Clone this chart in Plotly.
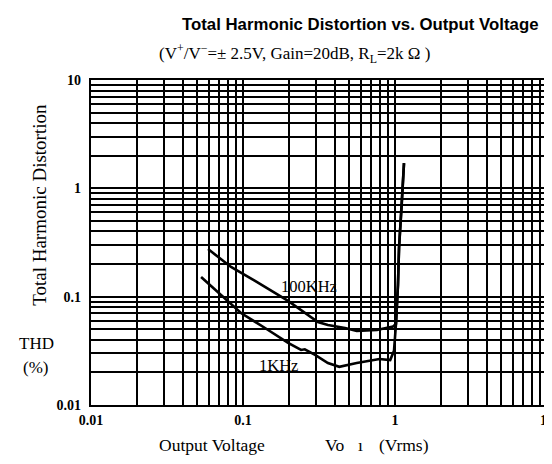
import math
import plotly.graph_objects as go

# ---- data ----
x_100k = [0.0589, 0.0834, 0.120, 0.198, 0.311, 0.362, 0.469, 0.56, 0.76, 0.97, 1.015, 1.046, 1.063, 1.107, 1.146]
y_100k = [0.275, 0.188, 0.140, 0.0913, 0.0584, 0.0548, 0.0514, 0.0482, 0.0493, 0.0530, 0.056, 0.128, 0.282, 0.70, 1.71]

x_1k = [0.053, 0.0717, 0.097, 0.1396, 0.198, 0.241, 0.255, 0.298, 0.362, 0.43, 0.56, 0.79, 0.93, 0.985, 1.015, 1.046, 1.063, 1.107, 1.146]
y_1k = [0.152, 0.1036, 0.0707, 0.0514, 0.0374, 0.0322, 0.0327, 0.0290, 0.0244, 0.0225, 0.0244, 0.0266, 0.026, 0.0316, 0.056, 0.128, 0.282, 0.70, 1.71]

tick_vals = [0.01, 0.1, 1, 10]
tick_text = ["0.01", "0.1", "1", "10"]
minor_vals = [m * 10 ** e for e in range(-2, 1) for m in range(2, 10)]

label_100k = ("100KHz", 0.27, 0.123)
label_1k = ("1KHz", 0.172, 0.0234)

SERIF = "Liberation Serif"
SANS = "Liberation Sans"

fig = go.Figure()
fig.add_trace(go.Scatter(x=x_100k, y=y_100k, mode="lines",
                         line=dict(color="black", width=2.6), name="100KHz"))
fig.add_trace(go.Scatter(x=x_1k, y=y_1k, mode="lines",
                         line=dict(color="black", width=2.6), name="1KHz"))

axis_common = dict(
    type="log",
    tickvals=tick_vals,
    ticktext=tick_text,
    showgrid=True,
    gridcolor="black",
    gridwidth=1.7,
    minor=dict(tickvals=minor_vals, showgrid=True, gridcolor="black", gridwidth=1.5, ticks=""),
    showline=True,
    linecolor="black",
    linewidth=2.2,
    mirror=True,
    ticks="",
    zeroline=False,
    tickfont=dict(family=SERIF, size=14, color="black", weight="bold"),
)

fig.update_layout(
    width=552, height=464,
    margin=dict(l=83, r=6, t=72, b=67),
    paper_bgcolor="white",
    plot_bgcolor="white",
    showlegend=False,
    xaxis=dict(range=[-2, 1], ticklabelstandoff=1, **axis_common),
    yaxis=dict(range=[-2, 1], ticklabelstandoff=5, **axis_common),
)

ann = []
for txt, xv, yv in (label_100k, label_1k):
    ann.append(dict(text=txt, x=math.log10(xv), y=math.log10(yv), xref="x", yref="y",
                    showarrow=False, font=dict(family=SERIF, size=16.5, color="black")))

ann += [
    dict(text="<b>Total Harmonic Distortion vs. Output Voltage</b>", x=356, y=16,
         font=dict(family=SANS, size=16.8, color="black")),
    dict(text="(V<sup>+</sup>/V<sup>−</sup>=± 2.5V, Gain=20dB, R<sub>L</sub>=2k Ω )", x=290, y=45,
         font=dict(family=SERIF, size=17, color="black")),
    dict(text="Total Harmonic Distortion", x=30, y=197, textangle=-90,
         font=dict(family=SERIF, size=19, color="black")),
    dict(text="THD", x=28, y=335, font=dict(family=SERIF, size=17, color="black")),
    dict(text="(%)", x=27, y=359, font=dict(family=SERIF, size=17, color="black")),
    dict(text="Output Voltage", x=206, y=437, font=dict(family=SERIF, size=17.5, color="black")),
    dict(text="Vo", x=330, y=437, font=dict(family=SERIF, size=17.5, color="black")),
    dict(text="ı", x=357, y=437, font=dict(family=SERIF, size=17.5, color="black")),
    dict(text="(Vrms)", x=401, y=437, font=dict(family=SERIF, size=17.5, color="black")),
]
# convert pixel positions for layout text to paper coords
W, H = 552, 464
L, R, T, B = 83, 6, 72, 67
pw, ph = W - L - R, H - T - B
for a in ann[2:]:
    a["x"] = (a["x"] - L) / pw
    a["y"] = 1 - (a["y"] - T) / ph
    a.update(xref="paper", yref="paper", showarrow=False, xanchor="center", yanchor="middle")

fig.update_layout(annotations=ann)
fig.write_html("out.html")
